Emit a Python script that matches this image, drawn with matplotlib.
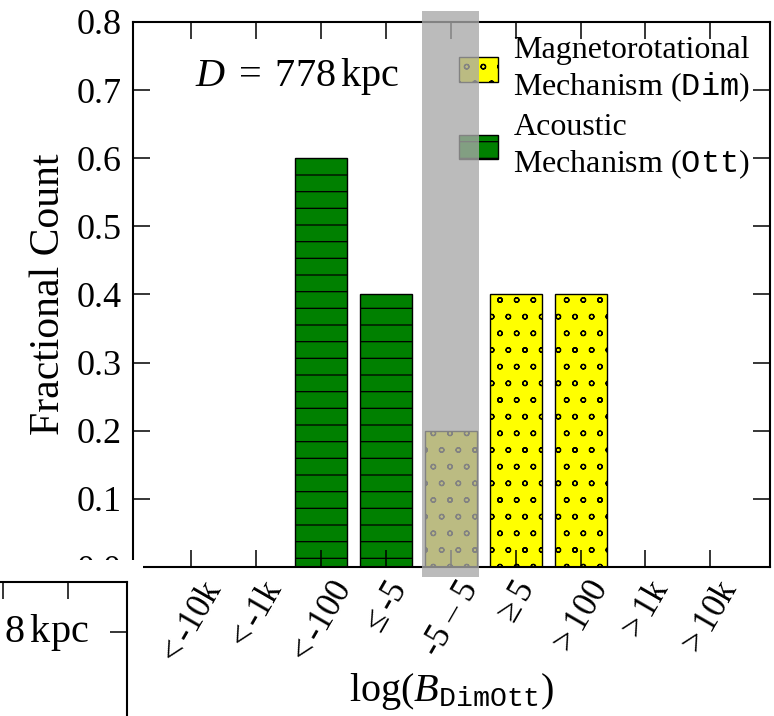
import numpy as np
import matplotlib
matplotlib.use('Agg')
import matplotlib.pyplot as plt
import matplotlib.hatch as mhatch
from matplotlib.patches import Rectangle
from matplotlib.ticker import FormatStrFormatter

plt.rcParams['font.family'] = 'serif'
plt.rcParams['font.serif'] = ['Liberation Serif', 'DejaVu Serif']
plt.rcParams['mathtext.fontset'] = 'custom'
plt.rcParams['mathtext.rm'] = 'Liberation Serif'
plt.rcParams['mathtext.it'] = 'Liberation Serif:italic'
plt.rcParams['mathtext.tt'] = 'Liberation Mono'
plt.rcParams['hatch.linewidth'] = 0.9


# smaller rings for the 'o' hatch
class TinyCircles(mhatch.SmallCircles):
    size = 0.14


mhatch._hatch_types = [TinyCircles if t is mhatch.SmallCircles else t
                       for t in mhatch._hatch_types]

# bins of log(B_DimOtt) and fractional counts for each mechanism
bins = [r'$<$-10k', r'$<$-1k', r'$<$-100', r'$\leq$-5', '-5 – 5',
        r'$\geq$5', r'$>$100', r'$>$1k', r'$>$10k']
dim_frac = [0.0, 0.0, 0.0, 0.0, 0.2, 0.4, 0.4, 0.0, 0.0]
ott_frac = [0.0, 0.0, 0.6, 0.4, 0.0, 0.0, 0.0, 0.0, 0.0]
yticks = [0.0, 0.1, 0.2, 0.3, 0.4, 0.5, 0.6, 0.7, 0.8]
dist_label = r'$D\;=\;778\,\mathrm{kpc}$'
dist_label_next = r'$D\;=\;8\,\mathrm{kpc}$'
undecided_bin = 4

x = np.arange(len(bins))
xlim = (-0.9, 8.92)

fig = plt.figure(figsize=(7.74, 7.16), dpi=100)
ax = fig.add_axes([0.1718, 0.2081, 0.823, 0.7612])

ax.bar(x, dim_frac, width=0.8, color='yellow', edgecolor='black', hatch='o',
       lw=1, label='Magnetorotational\nMechanism ($\\mathtt{Dim}$)')
ax.bar(x, ott_frac, width=0.8, color='green', edgecolor='black', hatch='-',
       lw=1, label='Acoustic\nMechanism ($\\mathtt{Ott}$)')

ax.set_xlim(*xlim)
ax.set_ylim(0, 0.8)
ax.set_xticks(x)
ax.set_xticklabels(bins, rotation=60, ha='center', fontsize=25)
ax.set_yticks(yticks)
ax.yaxis.set_major_formatter(FormatStrFormatter('%.1f'))
ax.tick_params(direction='in', length=12, width=1.1, top=True, right=True,
               pad=8)
ax.tick_params(axis='y', labelsize=26)
ax.tick_params(axis='x', pad=6)
for s in ax.spines.values():
    s.set_linewidth(1.5)

ax.set_ylabel('Fractional Count', fontsize=30)
ax.yaxis.set_label_coords(-0.102, 0.5)
ax.set_xlabel(r'$\log(B_{\mathtt{DimOtt}})$', fontsize=29)
ax.xaxis.set_label_coords(0.5, -0.19)
ax.text(0.098, 0.9, dist_label, transform=ax.transAxes, fontsize=29,
        va='center')

leg = ax.legend(loc='upper left', bbox_to_anchor=(0.512, 0.974),
                frameon=False, fontsize=23, handlelength=1.22,
                handleheight=0.82, handletextpad=0.48, borderpad=0,
                borderaxespad=0, labelspacing=0.3)

# shaded "undecided" bin, drawn over bars and legend
ax.axvspan(undecided_bin - 0.44, undecided_bin + 0.44, ymin=-0.018, ymax=1.02,
           color='0.66', alpha=0.78, lw=0, zorder=10, clip_on=False)

# neighbouring panel poking in from the lower left
fig.add_artist(Rectangle((0, 0), 143 / 774, 156 / 716, transform=fig.transFigure,
                         facecolor='white', edgecolor='none', zorder=1))
low = fig.add_axes([-0.656, -0.7206, 0.8204, 0.9078])
low.set_zorder(2)
low.set_xlim(*xlim)
low.set_ylim(0, 0.65)
low.set_xticks(x)
low.set_yticks(np.arange(0, 0.61, 0.1))
low.tick_params(direction='in', length=12, width=1.1, top=True, right=True,
                labelbottom=False, labelleft=False)
for s in low.spines.values():
    s.set_linewidth(1.5)
low.text(0.94, 0.923, dist_label_next, transform=low.transAxes, fontsize=29,
         va='center', ha='right')

fig.savefig('out.png', dpi=100)
